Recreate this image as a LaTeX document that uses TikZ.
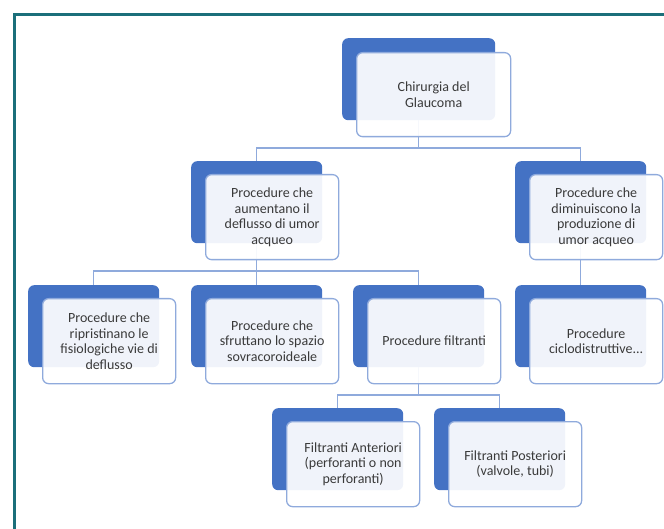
\documentclass[tikz,border=0pt]{standalone}
\usepackage{fontspec}
\setmainfont{Carlito}
\usetikzlibrary{positioning}

\definecolor{glblue}{HTML}{4472C4}
\definecolor{glline}{HTML}{8FAADC}
\definecolor{gltext}{HTML}{3A3A3A}
\definecolor{glframe}{HTML}{1B6F7A}

\begin{document}
\begin{tikzpicture}[x=1pt,y=-1pt,
        back/.style={draw=none,fill=glblue,rounded corners=6pt,anchor=north west,minimum width=131pt,minimum height=82pt},
        front/.style={draw=glline,line width=1.3pt,fill=white,fill opacity=0.92,text opacity=1,rounded corners=6pt,anchor=north west,
            minimum width=133pt,minimum height=85pt,inner sep=2pt,align=center,text=gltext,font=\fontsize{14}{15.6}\selectfont},
        link/.style={draw=glline,line width=1.3pt}]
                \useasboundingbox (0,0) rectangle (664,529);
                \draw[glframe,line width=3pt] (14,529) -- (14,15) -- (664,15);
                % buses
                \coordinate (bus1) at (0,148);
                \coordinate (bus2) at (0,271);
                \coordinate (bus3) at (0,395);
                % boxes, back layer
                \node[back,minimum width=153pt] (chir-b) at (342,38) {};
                \node[back] (aum-b) at (191,161) {};
                \node[back] (dim-b) at (515,161) {};
                \node[back] (rip-b) at (28,285) {};
                \node[back] (sfr-b) at (191,285) {};
                \node[back] (fil-b) at (353,285) {};
                \node[back] (cic-b) at (515,285) {};
                \node[back] (ant-b) at (272,408) {};
                \node[back] (post-b) at (434,408) {};
                % connectors
                \draw[link] (chir-b.south) -- (bus1 -| chir-b.south);
                \draw[link] (aum-b.north) |- (bus1 -| chir-b.south) -| (dim-b.north);
                \draw[link] (aum-b.south) -- (sfr-b.north);
                \draw[link] (rip-b.north) |- (bus2 -| aum-b.south) -| (fil-b.north);
                \draw[link] (dim-b.south) -- (cic-b.north);
                \draw[link] (fil-b.south) -- (bus3 -| fil-b.south);
                \draw[link] (ant-b.north) |- (bus3 -| fil-b.south) -| (post-b.north);
                % boxes, front layer
                \node[front,minimum width=154pt,minimum height=84pt] (chir) at ([shift={(14,14)}]chir-b.north west) {Chirurgia del\\Glaucoma};
                \node[front] (aum) at ([shift={(14,13)}]aum-b.north west) {Procedure che\\aumentano il\\deflusso di umor\\acqueo};
                \node[front] (dim) at ([shift={(14,13)}]dim-b.north west) {Procedure che\\diminuiscono la\\produzione di\\umor acqueo};
                \node[front] (rip) at ([shift={(14,13)}]rip-b.north west) {Procedure che\\ripristinano le\\fisiologiche vie di\\deflusso};
                \node[front] (sfr) at ([shift={(14,13)}]sfr-b.north west) {Procedure che\\sfruttano lo spazio\\sovracoroideale};
                \node[front] (fil) at ([shift={(14,13)}]fil-b.north west) {Procedure filtranti};
                \node[front] (cic) at ([shift={(14,13)}]cic-b.north west) {Procedure\\ciclodistruttive...};
                \node[front] (ant) at ([shift={(14,13)}]ant-b.north west) {Filtranti Anteriori\\(perforanti o non\\perforanti)};
                \node[front] (post) at ([shift={(14,13)}]post-b.north west) {Filtranti Posteriori\\(valvole, tubi)};
            \end{tikzpicture}
\end{document}
